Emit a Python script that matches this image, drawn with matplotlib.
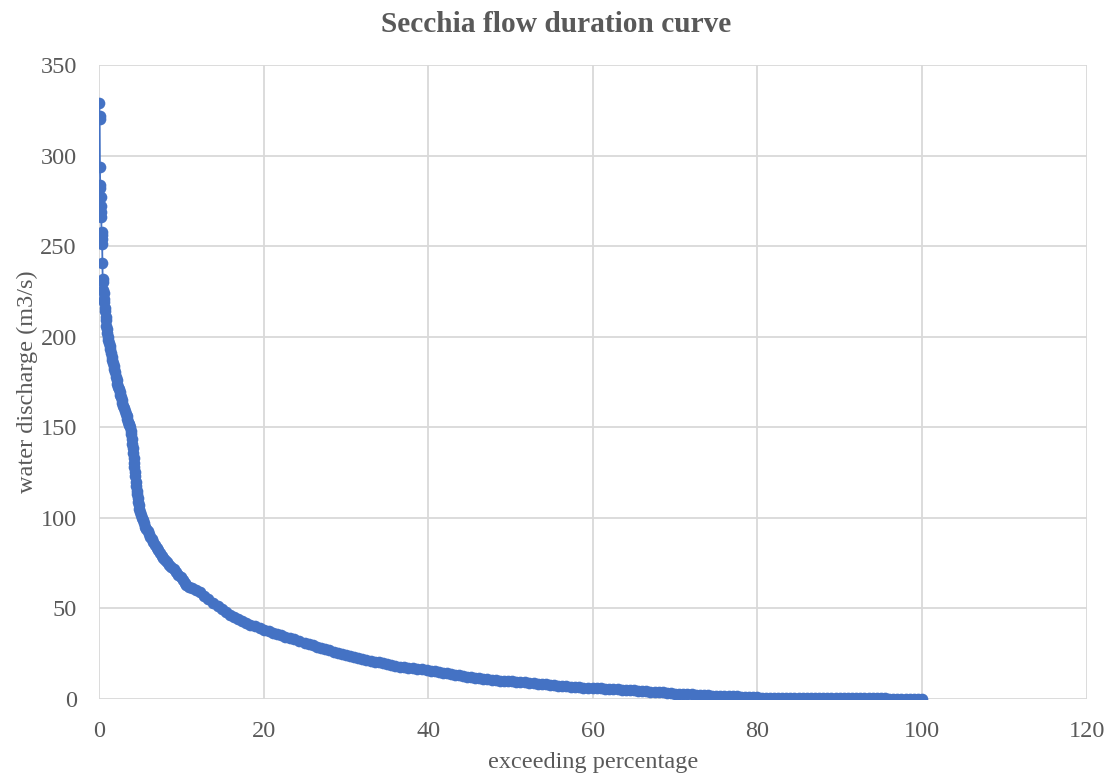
import matplotlib
matplotlib.use("Agg")
import matplotlib.pyplot as plt

# ---- data ----
exceed_pct = [
    0.03, 0.06, 0.08, 0.11, 0.14, 0.16, 0.19, 0.22, 0.25, 0.27, 0.30, 0.33, 0.35, 0.38, 0.41, 0.44, 0.47,
    0.50, 0.55, 0.60, 0.65, 0.70, 0.75, 0.80, 0.85, 0.90, 0.95, 1.00, 1.05,
    1.12, 1.20, 1.28, 1.36, 1.45, 1.54,
    1.62, 1.70, 1.78, 1.86, 1.94, 2.04, 2.15,
    2.24, 2.33, 2.42, 2.50, 2.58, 2.67, 2.76,
    2.85, 2.94, 3.04, 3.14, 3.25, 3.37,
    3.45, 3.53, 3.62, 3.70, 3.77,
    3.84, 3.90, 3.97, 4.05,
    4.10, 4.15, 4.20, 4.25, 4.30,
    4.35, 4.41, 4.47, 4.52, 4.58,
    4.64, 4.70, 4.77, 4.84, 4.90,
    5.00, 5.10, 5.20, 5.30, 5.45, 5.60,
    5.75, 5.90, 6.05, 6.20, 6.40, 6.60,
    6.80, 7.00, 7.20, 7.40, 7.60, 7.80,
    8.05, 8.30, 8.55, 8.80, 9.10, 9.40,
    9.65, 9.90, 10.15, 10.40, 10.60,
    10.90, 11.30, 11.80, 12.30, 12.80, 13.30, 13.90,
    14.4, 14.9, 15.4, 15.9,
    16.4, 16.9, 17.4, 17.9,
    18.4, 18.9, 19.5, 20.1,
    20.6, 21.1, 21.6, 22.1, 22.6, 23.2,
    23.7, 24.3, 25.0,
    25.5, 26.0, 26.5, 27.0, 27.5, 28.0, 28.5,
    29.0, 29.5, 30.0, 30.5, 31.0, 31.5, 32.0, 32.5,
    33.0, 33.5, 34.0, 34.5, 35.0, 35.5, 36.0, 36.6,
    37.1, 37.6, 38.1, 38.6, 39.2, 39.8,
    40.3, 40.8, 41.3, 41.8, 42.3, 42.8, 43.3, 43.8, 44.2, 44.7,
    45.2, 45.7, 46.2, 46.7, 47.2, 47.7, 48.2, 48.7,
    49.2, 49.7, 50.2, 50.7, 51.2, 51.7, 52.2, 52.8,
    53.3, 53.8, 54.3, 54.8, 55.3, 55.8, 56.3, 56.8,
    57.3, 57.8, 58.3, 58.8, 59.4, 60.0,
    60.5, 61.0, 61.5, 62.0, 62.5, 63.0, 63.5, 64.0, 64.5, 65.0,
    65.5, 66.0, 66.5, 67.0, 67.5, 68.0, 68.5, 69.0, 69.5, 70.0, 70.5, 71.0,
    71.5, 72.0, 72.5, 73.0, 73.5, 74.0, 74.5, 75.0,
    75.5, 76.0, 76.5, 77.0, 77.5, 78.0, 78.5, 79.0, 79.5, 80.0,
    80.5, 81.0, 81.5, 82.0, 82.5, 83.0, 83.5, 84.0, 84.5, 85.0,
    85.5, 86.0, 86.5, 87.0, 87.5, 88.0, 88.5, 89.0, 89.5, 90.0,
    90.5, 91.0, 91.5, 92.0, 92.5, 93.0, 93.5, 94.0, 94.5, 95.0,
    95.5, 96.0, 96.5, 97.0, 97.5, 98.0, 98.5, 99.0, 99.5, 100.0,
]

discharge = [
    329, 322, 320, 294, 284, 282, 277, 272, 269, 266, 258, 256, 254, 251, 241, 232, 230,
    226, 224, 221, 219, 216, 214, 211, 209, 206, 204, 202, 200,
    198, 196.5, 195, 193, 191, 189,
    187, 185.5, 184, 182, 180.5, 178, 176,
    174, 172.5, 171, 169.5, 168, 166.5, 165,
    163.5, 162, 160.5, 159, 157.5, 156,
    154.5, 153, 152, 151, 150,
    148, 146, 143.5, 141,
    138.5, 136, 133, 130.5, 128,
    125.5, 123, 120, 117.5, 115,
    113, 111, 108.5, 107, 105,
    103, 101.5, 100, 98.5, 97, 95,
    94, 92.5, 91, 89.5, 88, 86.5,
    85, 83.5, 82, 80.5, 79, 77.7,
    76.5, 75.5, 74, 73, 71.5, 70.3,
    68.5, 67, 65.5, 64, 63,
    62, 61, 60, 59, 57, 55, 52.8,
    51, 49.4, 47.8, 46.4,
    45.2, 44, 42.9, 41.8,
    40.9, 40, 39, 38.1,
    37.3, 36.5, 35.8, 35.1, 34.3, 33.5,
    32.8, 32, 31,
    30.2, 29.5, 28.8, 28.1, 27.4, 26.7, 26,
    25.4, 24.8, 24.3, 23.7, 23.1, 22.6, 22.0, 21.5,
    21.0, 20.5, 20.1, 19.6, 19.2, 18.7, 18.3, 17.8,
    17.5, 17.2, 16.9, 16.6, 16.3, 16.0,
    15.6, 15.2, 14.8, 14.4, 14.0, 13.7, 13.3, 13.0, 12.6, 12.3,
    12.0, 11.7, 11.5, 11.2, 10.9, 10.6, 10.4, 10.1,
    10.0, 9.8, 9.6, 9.5, 9.3, 9.1, 8.9, 8.7,
    8.4, 8.2, 8.0, 7.7, 7.5, 7.2, 7.0, 6.8,
    6.7, 6.5, 6.4, 6.2, 6.0, 5.9,
    5.8, 5.7, 5.6, 5.5, 5.4, 5.3, 5.1, 4.9, 4.8, 4.6,
    4.4, 4.3, 4.1, 4.0, 3.8, 3.6, 3.5, 3.3, 3.1, 2.9, 2.8, 2.6,
    2.5, 2.4, 2.3, 2.2, 2.0, 1.9, 1.8, 1.7,
    1.6, 1.5, 1.4, 1.4, 1.3, 1.2, 1.1, 1.1, 1.0, 0.9,
    0.7, 0.6, 0.5, 0.5, 0.5, 0.5, 0.5, 0.5, 0.5, 0.5,
    0.5, 0.5, 0.5, 0.5, 0.5, 0.5, 0.5, 0.5, 0.5, 0.5,
    0.5, 0.5, 0.5, 0.5, 0.5, 0.5, 0.5, 0.5, 0.4, 0.4,
    0.2, 0.1, 0.1, 0.1, 0.1, 0.1, 0.1, 0.0, 0.0, 0.0,
]

x_ticks = [0, 20, 40, 60, 80, 100, 120]
y_ticks = [0, 50, 100, 150, 200, 250, 300, 350]

title = "Secchia flow duration curve"
x_label = "exceeding percentage"
y_label = "water discharge (m3/s)"

# ---- styling ----
plt.rcParams['font.family'] = ['Liberation Serif', 'DejaVu Serif']
text_color = "#595959"
grid_color = "#D9D9D9"
line_color = "#4472C4"

fig = plt.figure(figsize=(11.09, 7.76), dpi=100)
ax = fig.add_axes([0.0893, 0.0995, 0.8905, 0.8165])

ax.plot(exceed_pct, discharge, color=line_color, linewidth=1.3,
        marker='o', markersize=8.4, markeredgewidth=0, zorder=3)

ax.set_xlim(0, 120)
ax.set_ylim(0, 350)
ax.set_xticks(x_ticks)
ax.set_yticks(y_ticks)
ax.grid(True, color=grid_color, linewidth=1.3, zorder=0)
ax.set_axisbelow(True)
for s in ax.spines.values():
    s.set_visible(False)
ax.tick_params(length=0, labelsize=17.5, labelcolor=text_color)
ax.tick_params(axis='x', pad=16)
ax.tick_params(axis='y', pad=16)

fig.text(0.5015, 0.968, title, ha='center', va='center', fontsize=21.2,
         fontweight='bold', color=text_color)
ax.set_xlabel(x_label, fontsize=17.5, color=text_color, labelpad=7.5)
ax.set_ylabel(y_label, fontsize=17.5, color=text_color, labelpad=2)

fig.savefig("out.png", dpi=100)
